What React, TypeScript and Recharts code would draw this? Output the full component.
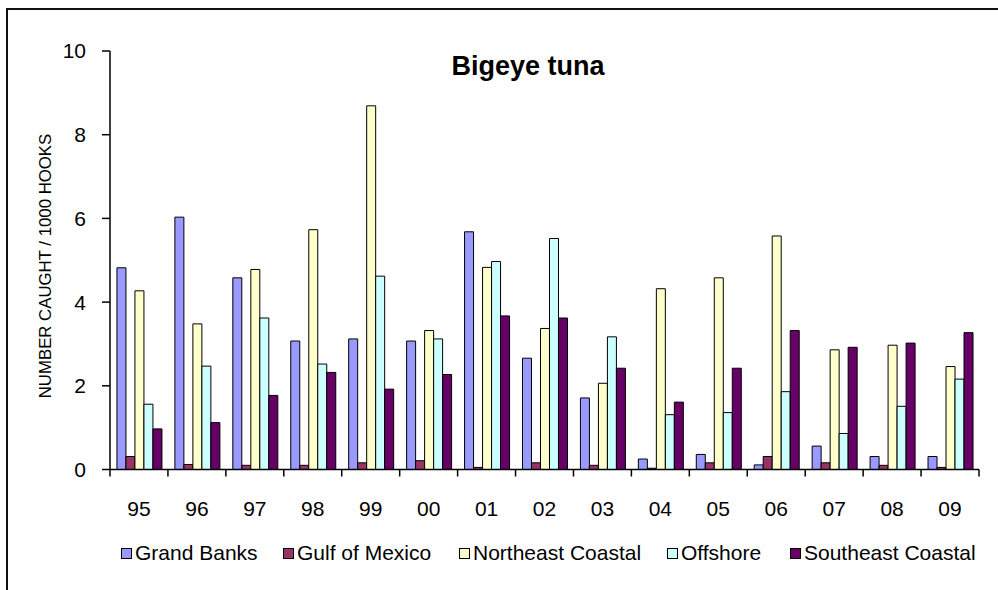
import React from "react";
import { BarChart, Bar, XAxis, YAxis } from "recharts";

const years = ["95", "96", "97", "98", "99", "00", "01", "02", "03", "04", "05", "06", "07", "08", "09"];
const grandBanks = [4.82, 6.03, 4.58, 3.07, 3.12, 3.07, 5.68, 2.66, 1.71, 0.25, 0.36, 0.11, 0.56, 0.31, 0.31];
const gulfOfMexico = [0.31, 0.12, 0.1, 0.1, 0.16, 0.21, 0.05, 0.16, 0.1, 0.03, 0.16, 0.31, 0.16, 0.1, 0.05];
const northeastCoastal = [4.27, 3.48, 4.78, 5.73, 8.69, 3.32, 4.83, 3.37, 2.06, 4.32, 4.58, 5.58, 2.86, 2.97, 2.46];
const offshore = [1.56, 2.47, 3.62, 2.52, 4.62, 3.12, 4.97, 5.52, 3.17, 1.31, 1.36, 1.86, 0.86, 1.51, 2.16];
const southeastCoastal = [0.97, 1.12, 1.77, 2.32, 1.92, 2.27, 3.67, 3.62, 2.42, 1.61, 2.42, 3.32, 2.92, 3.02, 3.27];
const yTicks = [0, 2, 4, 6, 8, 10];

const seriesNames = ["Grand Banks", "Gulf of Mexico", "Northeast Coastal", "Offshore", "Southeast Coastal"];
const seriesKeys = ["gb", "gm", "nc", "of", "sc"];
const seriesColors = ["#9999FF", "#993366", "#FFFFCC", "#CCFFFF", "#660066"];
const legendLefts = [121, 283, 459, 667, 790];

const data = years.map((y, i) => ({
  year: y,
  gb: grandBanks[i],
  gm: gulfOfMexico[i],
  nc: northeastCoastal[i],
  of: offshore[i],
  sc: southeastCoastal[i],
}));

const FONT = "'Liberation Sans', Arial, sans-serif";
const PLOT_LEFT = 110;
const PLOT_RIGHT = 979;
const HALF_BAND = (PLOT_RIGHT - PLOT_LEFT) / years.length / 2;

const XTick = (props: any) => {
  const { x, y, payload, index } = props;
  const isLast = index === years.length - 1;
  return (
    <g>
      <line x1={x - HALF_BAND} x2={x - HALF_BAND} y1={y - 8} y2={y - 1} stroke="#000" strokeWidth={1.5} />
      {isLast && (
        <line x1={x + HALF_BAND} x2={x + HALF_BAND} y1={y - 8} y2={y - 1} stroke="#000" strokeWidth={1.5} />
      )}
      <text x={x} y={y + 38} textAnchor="middle" fontSize={21} fontFamily={FONT} fill="#000">
        {payload.value}
      </text>
    </g>
  );
};

const YLabel = () => (
  <text
    x={51}
    y={266}
    transform="rotate(-90 51 266)"
    textAnchor="middle"
    fontSize={16.8}
    fontFamily={FONT}
    fill="#000"
  >
    NUMBER CAUGHT / 1000 HOOKS
  </text>
);

export default function App() {
  return (
    <div style={{ position: "absolute", left: 0, top: 0, width: 998, height: 590, background: "#fff", overflow: "hidden" }}>
      <div
        style={{
          position: "absolute",
          left: 6,
          top: 8,
          width: 1000,
          height: 600,
          border: "2px solid #111",
          boxSizing: "border-box",
        }}
      />
      <div
        style={{
          position: "absolute",
          left: 0,
          width: 1056,
          top: 51,
          textAlign: "center",
          fontFamily: FONT,
          fontWeight: "bold",
          fontSize: 27,
          color: "#000",
        }}
      >
        Bigeye tuna
      </div>
      <div style={{ position: "absolute", left: 0, top: 0 }}>
        <BarChart
          width={998}
          height={590}
          data={data}
          margin={{ top: 51, right: 998 - PLOT_RIGHT, left: PLOT_LEFT - 60, bottom: 90.5 }}
          barCategoryGap="12%"
          barGap={0}
        >
          <XAxis
            dataKey="year"
            height={30}
            axisLine={{ stroke: "#000", strokeWidth: 1.5 }}
            tickLine={false}
            tick={<XTick />}
            interval={0}
          />
          <YAxis
            width={60}
            domain={[0, 10]}
            ticks={yTicks}
            interval={0}
            axisLine={{ stroke: "#000", strokeWidth: 1.5 }}
            tickLine={{ stroke: "#000", strokeWidth: 1.5 }}
            tickSize={8}
            tickMargin={16}
            tick={{ fontSize: 21, fontFamily: FONT, fill: "#000" }}
            label={<YLabel />}
          />
          {seriesKeys.map((k, i) => (
            <Bar
              key={k}
              dataKey={k}
              name={seriesNames[i]}
              fill={seriesColors[i]}
              stroke="#000"
              strokeWidth={1}
              isAnimationActive={false}
            />
          ))}
        </BarChart>
      </div>
      {seriesNames.map((n, i) => (
        <div
          key={n}
          style={{
            position: "absolute",
            left: legendLefts[i],
            top: 541,
            display: "flex",
            alignItems: "center",
            fontFamily: FONT,
            fontSize: 21,
            color: "#000",
            whiteSpace: "nowrap",
          }}
        >
          <span
            style={{
              display: "inline-block",
              width: 9,
              height: 9,
              background: seriesColors[i],
              border: "1px solid #000",
              marginRight: 3,
            }}
          />
          <span>{n}</span>
        </div>
      ))}
    </div>
  );
}
